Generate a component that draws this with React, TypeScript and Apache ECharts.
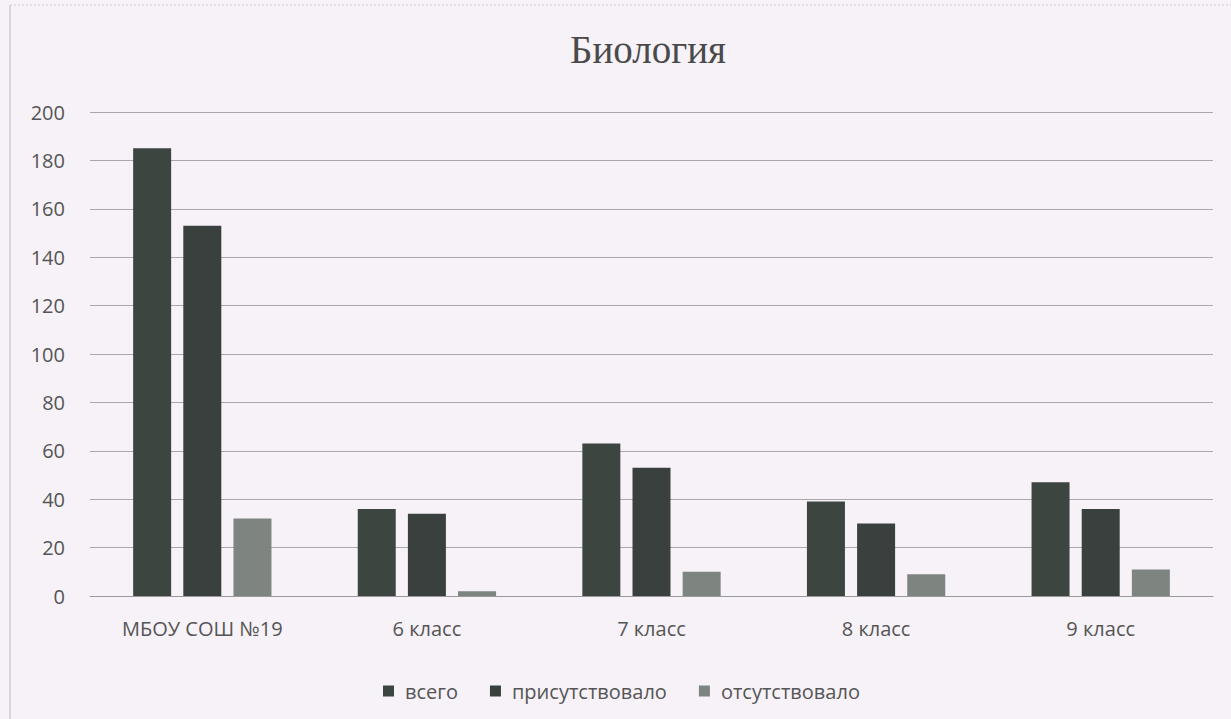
import React, { useEffect, useRef } from "react";
import * as echarts from "echarts";

const categories = ["МБОУ СОШ №19", "6 класс", "7 класс", "8 класс", "9 класс"];
const seriesNames = ["всего", "присутствовало", "отсутствовало"];
const vsego = [185, 36, 63, 39, 47];
const prisutstvovalo = [153, 34, 53, 30, 36];
const otsutstvovalo = [32, 2, 10, 9, 11];
const yTicks = { min: 0, max: 200, interval: 20 };

export default function App() {
  const ref = useRef<HTMLDivElement>(null);
  useEffect(() => {
    if (!ref.current) return;
    const chart = echarts.init(ref.current, null, { renderer: "svg" });
    const font = "'Open Sans', 'Liberation Sans', sans-serif";
    chart.setOption({
      animation: false,
      backgroundColor: "#f6f2f8",
      title: {
        text: "Биология",
        left: 643,
        top: 25,
        textAlign: "center",
        textStyle: {
          fontFamily: "'Liberation Serif', 'DejaVu Serif', serif",
          fontWeight: "normal",
          fontSize: 39,
          color: "#4a4a4a",
        },
      },
      legend: {
        top: 676,
        left: 378,
        itemWidth: 11,
        itemHeight: 11,
        itemGap: 32,
        icon: "rect",
        textStyle: { fontFamily: font, fontSize: 20, color: "#555", padding: [0, 0, 0, 6] },
        data: seriesNames,
      },
      grid: { left: 90, right: 18, top: 112, bottom: 123, containLabel: false },
      xAxis: {
        type: "category",
        data: categories,
        axisLine: { lineStyle: { color: "#9a9a9a", width: 1 } },
        axisTick: { show: false },
        axisLabel: { fontFamily: font, fontSize: 20, color: "#555", margin: 22 },
      },
      yAxis: {
        type: "value",
        min: yTicks.min,
        max: yTicks.max,
        interval: yTicks.interval,
        axisLine: { show: false },
        axisTick: { show: false },
        splitLine: { lineStyle: { color: "#a8a8a8", width: 1 } },
        axisLabel: { fontFamily: font, fontSize: 20, color: "#555", margin: 25 },
      },
      graphic: [
        { type: "line", shape: { x1: 10, y1: 5, x2: 10, y2: 719 }, style: { stroke: "#bbb", lineWidth: 1 } },
        { type: "line", shape: { x1: 10, y1: 5, x2: 1231, y2: 5 }, style: { stroke: "#ccc", lineWidth: 1, lineDash: [2, 2] } },
      ],
      series: [
        { name: seriesNames[0], type: "bar", data: vsego, barWidth: 38, barGap: "32%", itemStyle: { color: "#3d4541" } },
        { name: seriesNames[1], type: "bar", data: prisutstvovalo, barWidth: 38, barGap: "32%", itemStyle: { color: "#3a403d" } },
        { name: seriesNames[2], type: "bar", data: otsutstvovalo, barWidth: 38, barGap: "32%", itemStyle: { color: "#7e8480" } },
      ],
    });
    return () => chart.dispose();
  }, []);
  return <div ref={ref} style={{ width: 1231, height: 719, position: "absolute", left: 0, top: 0 }} />;
}
